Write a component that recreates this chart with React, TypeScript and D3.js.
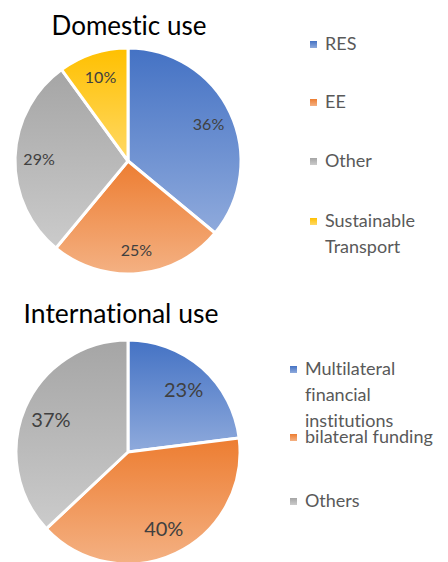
import React from "react";
import * as d3 from "d3";

const domesticCategories = ["RES", "EE", "Other", "Sustainable Transport"];
const domesticValues = [36, 25, 29, 10];
const domesticLegendLines = [["RES"], ["EE"], ["Other"], ["Sustainable", "Transport"]];

const intlCategories = ["Multilateral financial institutions", "bilateral funding", "Others"];
const intlValues = [23, 40, 37];
const intlLegendLines = [["Multilateral", "financial", "institutions"], ["bilateral funding"], ["Others"]];

const colorStops: [string, string][] = [
  ["#4472C4", "#8FAADC"],
  ["#ED7D31", "#F4B183"],
  ["#A5A5A5", "#CBCBCB"],
  ["#FFC000", "#FFD966"],
];

const FONT = "Lato, 'Open Sans', sans-serif";
const noLig = { fontVariantLigatures: "none" as const };

type PieProps = {
  id: string;
  values: number[];
  cx: number;
  cy: number;
  r: number;
  labelR: number;
  labelSize: number;
};

function Pie({ id, values, cx, cy, r, labelR, labelSize }: PieProps) {
  const pie = d3.pie<number>().sort(null).value((d) => d)(values);
  const total = d3.sum(values);
  const arc = d3.arc<d3.PieArcDatum<number>>().innerRadius(0).outerRadius(r);
  const labelArc = d3.arc<d3.PieArcDatum<number>>().innerRadius(labelR).outerRadius(labelR);
  return (
    <g transform={`translate(${cx},${cy})`}>
      {pie.map((p, i) => (
        <path
          key={i}
          d={arc(p) || ""}
          fill={`url(#${id}-g${i})`}
          stroke="#fff"
          strokeWidth={3}
          strokeLinejoin="round"
        />
      ))}
      {pie.map((p, i) => {
        const [x, y] = labelArc.centroid(p);
        return (
          <text
            key={"t" + i}
            x={x}
            y={y}
            textAnchor="middle"
            dominantBaseline="central"
            fontSize={labelSize}
            fill="#404040"
            fontFamily={FONT}
            style={noLig}
          >
            {Math.round((p.value / total) * 100)}%
          </text>
        );
      })}
    </g>
  );
}

type LegendProps = { id: string; lines: string[][]; x: number; ys: number[] };

function Legend({ id, lines, x, ys }: LegendProps) {
  return (
    <g>
      {lines.map((ls, i) => (
        <g key={i}>
          <rect x={x} y={ys[i] - 9} width={7} height={7} fill={`url(#${id}-g${i})`} />
          {ls.map((l, j) => (
            <text
              key={j}
              x={x + 15}
              y={ys[i] + j * 26}
              fontSize={18}
              fill="#595959"
              fontFamily={FONT}
              style={noLig}
            >
              {l}
            </text>
          ))}
        </g>
      ))}
    </g>
  );
}

function Gradients({ id, n }: { id: string; n: number }) {
  return (
    <>
      {d3.range(n).map((i) => (
        <linearGradient key={i} id={`${id}-g${i}`} x1="0" y1="0" x2="0" y2="1">
          <stop offset="0" stopColor={colorStops[i][0]} />
          <stop offset="1" stopColor={colorStops[i][1]} />
        </linearGradient>
      ))}
    </>
  );
}

export default function App() {
  return (
    <svg width={448} height={562} style={{ position: "absolute", left: 0, top: 0 }}>
      <defs>
        <Gradients id="dom" n={domesticValues.length} />
        <Gradients id="intl" n={intlValues.length} />
      </defs>
      <rect width={448} height={562} fill="#fff" />
      <text x={129} y={35} textAnchor="middle" fontSize={26} fill="#000" fontFamily={FONT} style={noLig}>
        Domestic use
      </text>
      <Pie id="dom" values={domesticValues} cx={128} cy={161} r={113} labelR={89} labelSize={16} />
      <Legend id="dom" lines={domesticLegendLines} x={310} ys={[50, 108, 167, 227]} />
      <text x={121} y={323} textAnchor="middle" fontSize={26.5} fill="#000" fontFamily={FONT} style={noLig}>
        International use
      </text>
      <Pie id="intl" values={intlValues} cx={128} cy={452} r={112} labelR={84} labelSize={20} />
      <Legend id="intl" lines={intlLegendLines} x={290} ys={[375, 443, 507]} />
    </svg>
  );
}
